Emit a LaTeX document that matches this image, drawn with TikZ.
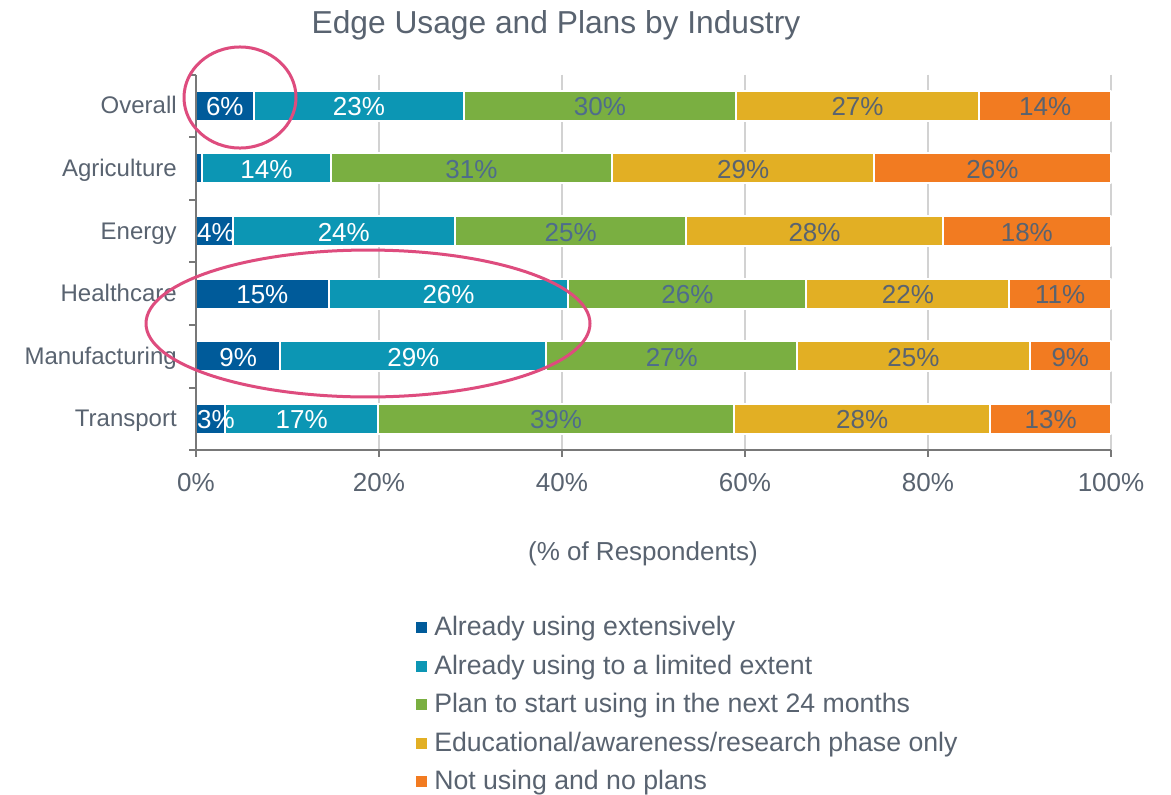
\documentclass[tikz,border=0pt]{standalone}
\usepackage{fontspec}
\setmainfont{Liberation Sans}
\usetikzlibrary{arrows}
\definecolor{darkblue}{RGB}{0,91,154}
\definecolor{tealbar}{RGB}{12,150,180}
\definecolor{greenbar}{RGB}{122,175,65}
\definecolor{yellowbar}{RGB}{226,175,36}
\definecolor{orangebar}{RGB}{242,123,33}
\definecolor{txtgray}{RGB}{89,99,112}
\definecolor{txtblue}{RGB}{78,108,140}
\definecolor{gridgray}{RGB}{210,210,210}
\definecolor{axisgray}{RGB}{120,120,120}
\definecolor{ringpink}{RGB}{222,76,126}

\begin{document}
\begin{tikzpicture}[line cap=butt,line join=round,x=0.75pt,y=-0.75pt,
  barlabel/.style={font=\fontsize{19.5}{22}\selectfont,inner sep=0pt,anchor=base},
  catlabel/.style={font=\fontsize{18}{22}\selectfont,text=txtgray,inner sep=0pt,anchor=base east},
  ticklabel/.style={font=\fontsize{19.5}{22}\selectfont,text=txtgray,inner sep=0pt,anchor=base},
  legtext/.style={font=\fontsize{20}{24}\selectfont,text=txtgray,inner sep=0pt,anchor=base west},
  seg/.style={draw=white,line width=1.5pt}]
\useasboundingbox (0,0) rectangle (1171,794);
\fill[white] (0,0) rectangle (1171,794);
\node[font=\fontsize{23.8}{28}\selectfont,text=txtgray,inner sep=0pt,anchor=base] (title) at (556,33) {Edge Usage and Plans by Industry};
\foreach \p in {20,40,60,80,100}
\draw[gridgray,line width=1.5pt] ({196+9.15*\p},74.5) -- ({196+9.15*\p},450);
\foreach \i/\y/\cat/\a/\b/\c/\d/\la/\lb/\lc/\ld/\le in {
  1/105.8/Overall/6.3/29.3/59.0/85.6/6/23/30/27/14,
  2/168.4/Agriculture/0.7/14.7/45.5/74.1//14/31/29/26,
  3/231/Energy/4.0/28.3/53.6/81.6/4/24/25/28/18,
  4/293.6/Healthcare/14.5/40.7/66.7/88.9/15/26/26/22/11,
  5/356.2/Manufacturing/9.2/38.3/65.7/91.1/9/29/27/25/9,
  6/418.8/Transport/3.2/19.9/58.8/86.8/3/17/39/28/13}{
\filldraw[seg,fill=darkblue] (196,{\y-15}) rectangle ({196+9.15*\a},{\y+15});
\filldraw[seg,fill=tealbar] ({196+9.15*\a},{\y-15}) rectangle ({196+9.15*\b},{\y+15});
\filldraw[seg,fill=greenbar] ({196+9.15*\b},{\y-15}) rectangle ({196+9.15*\c},{\y+15});
\filldraw[seg,fill=yellowbar] ({196+9.15*\c},{\y-15}) rectangle ({196+9.15*\d},{\y+15});
\filldraw[seg,fill=orangebar] ({196+9.15*\d},{\y-15}) rectangle (1111,{\y+15});
\node[catlabel] (cat\i) at (177,{\y+8}) {\cat};
\ifx\la\empty\else
\node[barlabel,text=white] (lab\i a) at ({max(196+9.15*\a/2,216)},{\y+10}) {\la\%};
\fi
\node[barlabel,text=white] (lab\i b) at ({196+9.15*(\a+\b)/2},{\y+10}) {\lb\%};
\node[barlabel,text=txtblue] (lab\i c) at ({196+9.15*(\b+\c)/2},{\y+10}) {\lc\%};
\node[barlabel,text=txtgray] (lab\i d) at ({196+9.15*(\c+\d)/2},{\y+10}) {\ld\%};
\node[barlabel,text=txtgray] (lab\i e) at ({196+9.15*(\d+100)/2},{\y+10}) {\le\%};
}
\draw[axisgray,line width=1.5pt] (196,74.5) -- (196,450) -- (1111,450);
\foreach \t in {74.5,137.1,199.7,262.3,324.9,387.5,450}
\draw[axisgray,line width=1.5pt] (189,\t) -- (196,\t);
\foreach \p in {0,20,40,60,80,100}{
\draw[axisgray,line width=1.5pt] ({196+9.15*\p},450) -- ({196+9.15*\p},457);
\node[ticklabel] (tick\p) at ({196+9.15*\p},491) {\p\%};
}
\node[ticklabel] (xtitle) at (643,560) {(\% of Respondents)};
\foreach \j/\col/\txt in {0/darkblue/{Already using extensively},
  1/tealbar/{Already using to a limited extent},
  2/greenbar/{Plan to start using in the next 24 months},
  3/yellowbar/{Educational/awareness/research phase only},
  4/orangebar/{Not using and no plans}}{
\fill[\col] (416,{627.5+38.5*\j-5.5}) rectangle (427,{627.5+38.5*\j+5.5});
\node[legtext] (leg\j) at (434,{627.5+38.5*\j+8}) {\txt};
}
\draw[ringpink,line width=2.25pt] (240,97.5) ellipse [x radius=42pt,y radius=37.9pt];
\draw[ringpink,line width=2.25pt] (368,323.5) ellipse [x radius=166.5pt,y radius=55.1pt];
\end{tikzpicture}
\end{document}
